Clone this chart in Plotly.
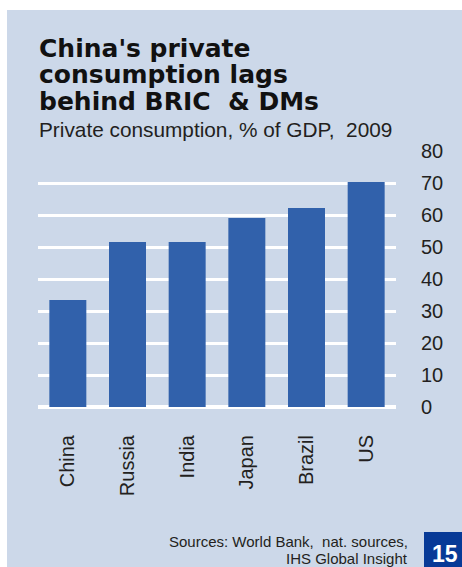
import plotly.graph_objects as go

# Private consumption as % of GDP, 2009
countries = ["China", "Russia", "India", "Japan", "Brazil", "US"]
consumption_pct = [33.4, 51.6, 51.6, 59.1, 62.2, 70.3]
y_ticks = [0, 10, 20, 30, 40, 50, 60, 70, 80]

title_lines = ["China's private", "consumption lags", "behind BRIC  & DMs"]
subtitle = "Private consumption, % of GDP,  2009"
source_lines = ["Sources: World Bank,  nat. sources,", "IHS Global Insight"]
page_no = "15"

PANEL = "#ccd8e9"
BAR = "#3161ab"
BOX = "#073a97"
INK = "#231f20"

W, H = 462, 567
L, R, T, B = 38, 396, 151, 407  # plot area in pixels


def px(x):
    return (x - L) / (R - L)


def py(y):
    return (B - y) / (B - T)


fig = go.Figure(
    go.Bar(
        x=countries,
        y=consumption_pct,
        marker=dict(color=BAR, line=dict(width=0)),
        width=0.62,
    )
)

shapes = [
    # background panel
    dict(type="rect", xref="paper", yref="paper", layer="below",
         x0=px(7), x1=px(W + 5), y0=py(H + 5), y1=py(10),
         fillcolor=PANEL, line=dict(width=0)),
    # page number box
    dict(type="rect", xref="paper", yref="paper", layer="above",
         x0=px(424), x1=px(W + 5), y0=py(H + 5), y1=py(532),
         fillcolor=BOX, line=dict(width=0)),
]

annotations = []
title_centers = [48, 74.5, 101]
for line, yc in zip(title_lines, title_centers):
    annotations.append(dict(
        text=line, xref="paper", yref="paper", x=px(37), y=py(yc),
        xanchor="left", yanchor="middle", showarrow=False,
        font=dict(family="DejaVu Sans", size=25, color="#111111", weight="bold"),
    ))
annotations.append(dict(
    text=subtitle, xref="paper", yref="paper", x=px(37), y=py(129),
    xanchor="left", yanchor="middle", showarrow=False,
    font=dict(family="Liberation Sans", size=20.8, color=INK),
))
for line, yc in zip(source_lines, [541, 558]):
    annotations.append(dict(
        text=line, xref="paper", yref="paper", x=px(410), y=py(yc),
        xanchor="right", yanchor="middle", showarrow=False,
        font=dict(family="Liberation Sans", size=15, color=INK),
    ))
annotations.append(dict(
    text=page_no, xref="paper", yref="paper", x=px(445), y=py(554),
    xanchor="center", yanchor="middle", showarrow=False,
    font=dict(family="Liberation Sans", size=23, color="white", weight="bold"),
))

fig.update_layout(
    width=W, height=H,
    margin=dict(l=L, r=W - R, t=T, b=H - B, pad=0),
    paper_bgcolor="white",
    plot_bgcolor="rgba(0,0,0,0)",
    showlegend=False,
    bargap=0.38,
    shapes=shapes,
    annotations=annotations,
    xaxis=dict(
        type="category",
        range=[-0.5, len(countries) - 0.5],
        tickangle=-90,
        tickfont=dict(family="Liberation Sans", size=20, color=INK),
        ticks="outside", ticklen=19, tickcolor="rgba(0,0,0,0)",
        showgrid=False, showline=False, zeroline=False,
    ),
    yaxis=dict(
        side="right",
        range=[0, 80],
        tickvals=y_ticks,
        tickfont=dict(family="Liberation Sans", size=20, color=INK),
        ticks="outside", ticklen=20, tickcolor="rgba(0,0,0,0)",
        showgrid=True, gridcolor="white", gridwidth=2.5,
        zeroline=True, zerolinecolor="white", zerolinewidth=4,
        showline=False,
    ),
)

fig.write_html("out.html")
